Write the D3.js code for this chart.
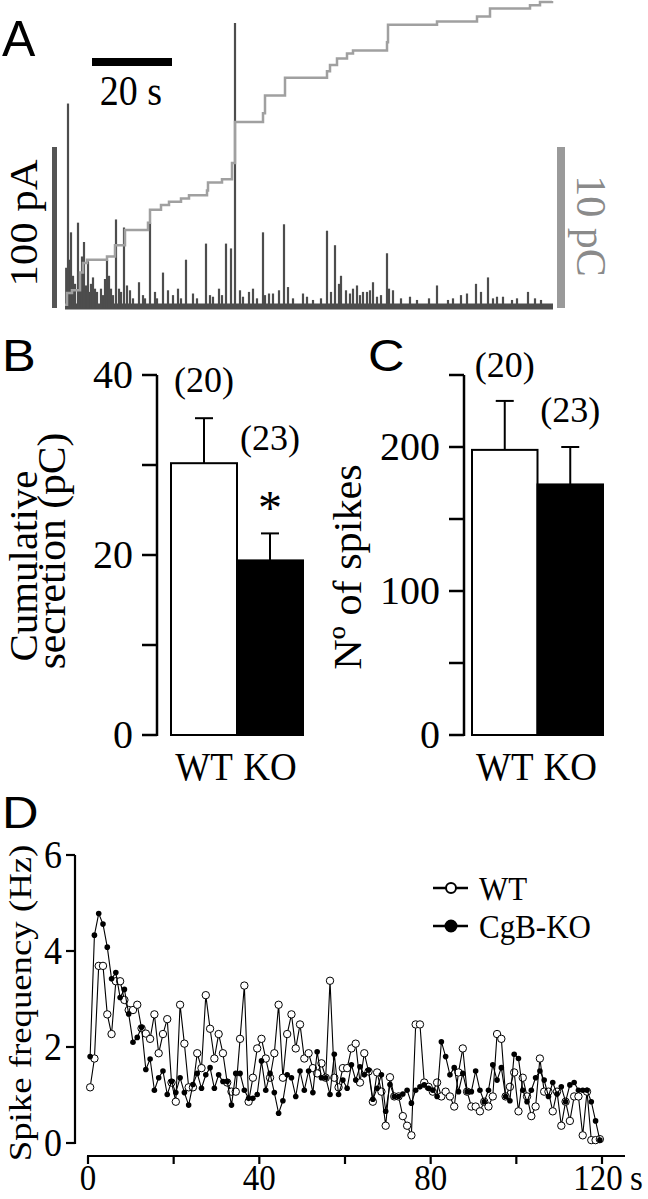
<!DOCTYPE html>
<html><head><meta charset="utf-8">
<script src="https://cdn.jsdelivr.net/npm/d3@7"></script>
<style>html,body{margin:0;padding:0;background:#fff;}svg{display:block;}</style>
</head><body>
<script>
// ---------- Panel A data ----------
const spikeTimes = [0.75,1.5,2,2.5,3.25,4.25,4.75,5.75,6.5,7,8,9,10.5,11,12.75,13.5,14.75,15.5,16.25,18.5,21.25,24.5,25.75,28.25,30.25,35.25,36.25,38.5,40.25,41.5,42.5,43.75,46,49.5,51,52,53.5,54.75,55.75,59.5,65.5,67.5,70.25,71.25,73.75,75.5,76.25,78,80.5,82,86.25,93,95.75,100.5,102.75,105.75,108,109.5,111.75,115.75,117.5];
const spikeAmps  = [127,47,20,15,53,32,41,29,15,19,10,12,30,20,55,12,50,14,11,16,53,22,11,12,30,40,8,12,40,37,177,11,10,47,9,9,11,52,13,9,48,39,11,9,8,10,11,7,34,11,7,14,5,9,15,19,7,7,5,10,6];
const smallSpikeTimes = [0.3,1.0,1.25,3.75,5.25,6,7.5,9.5,10,11.5,12,14,17,19.5,20,22.5,23,27,29,32,33,37,39.25,44.5,47,48,50,57,60.5,62,64,66.5,68.5,69,72,73,74.5,77,79,81,84,88,91,97,99,104,107,113,119];
const smallSpikeAmps  = [25,30,22,18,14,10,12,8,18,12,8,10,6,8,6,10,6,8,6,9,6,7,8,7,12,6,8,6,7,5,6,10,15,20,12,14,10,16,8,12,6,5,6,6,8,10,6,6,5];
const chargeTimes = [0,0.5,1.75,3.75,4.5,5.5,10.5,12.5,15,20.75,21.25,24,26,29,31,35.5,35.75,39.25,41.75,42.5,49.5,50,55,65.5,66.25,68,70.5,72,80.5,80.75,93,103,106.25,116.25,118.75,121.75];
const chargeVals  = [0.2,0.93,1.1,2.2,2.8,3.0,3.2,3.9,4.85,5.3,6.1,6.4,6.6,6.8,7.0,7.3,7.8,8.0,9.0,11.55,12.1,13.2,14.3,14.7,15.1,15.5,15.8,16.0,16.5,17.6,17.8,18.1,18.6,18.8,19.0,19.07];

// ---------- Panels B, C data ----------
const groups = ["WT","KO"];
const secretionMean = [30.2, 19.4];
const secretionErr  = [5.0, 3.0];
const secretionN    = ["(20)","(23)"];
const spikesMean = [198, 174];
const spikesErr  = [34, 26];
const spikesN    = ["(20)","(23)"];
const secretionTicks = [0,10,20,30,40];
const secretionLabels = [0,20,40];
const spikesTicks = [0,50,100,150,200,250];
const spikesLabels = [0,100,200];

// ---------- Panel D data ----------
const seconds = d3.range(0.5, 120.5, 1);
const freqWT = [1.16,1.76,3.69,3.69,2.68,2.27,3.37,3.37,2.98,2.77,
2.77,2.88,2.39,2.28,2.17,2.68,1.87,2.27,2.58,1.26,
0.86,2.88,2.07,1.16,1.16,1.87,1.56,3.08,2.38,1.76,
2.27,1.87,1.26,1.07,1.07,2.17,3.28,0.86,1.36,1.97,
2.17,1.76,1.36,1.87,2.88,1.36,2.27,2.68,1.97,2.47,
1.76,1.87,1.56,1.45,1.66,1.36,3.38,1.36,1.16,1.56,
1.56,1.97,2.07,
1.26,1.87,1.49,0.86,1.47,1.07,0.36,1.37,0.97,0.97,
0.56,0.36,0.16,2.47,2.47,1.26,1.17,1.07,1.26,0.97,
1.07,0.97,0.76,1.47,1.97,1.07,0.76,0.76,0.66,0.86,
0.76,0.97,2.27,2.17,0.97,1.17,1.47,0.66,1.36,0.97,
0.56,0.76,1.76,1.07,1.07,0.66,1.07,0.36,0.86,0.46,
0.97,0.97,0.16,1.07,0.06,0.06,0.08];
const freqKO = [1.80,4.33,4.78,4.56,4.08,3.42,3.55,3.03,3.20,2.69,
2.10,2.20,2.41,1.53,1.75,1.10,1.36,1.50,1.01,1.28,
1.05,1.36,1.05,0.79,1.22,1.45,1.14,1.42,1.57,1.14,
1.42,1.28,1.28,0.79,1.45,1.45,1.10,0.93,0.93,1.01,
1.71,1.10,1.45,1.05,0.62,0.88,1.42,1.36,0.97,1.50,
1.10,1.50,1.05,1.90,1.36,1.36,1.01,1.85,1.01,1.31,
1.14,1.63,1.31,
1.59,1.42,1.52,0.91,1.14,1.42,0.66,1.22,0.97,0.97,
1.02,1.10,0.83,1.10,1.17,1.21,1.14,1.10,0.97,2.11,
1.80,1.42,1.57,1.07,1.45,1.07,1.07,1.50,1.10,0.86,
1.10,1.63,1.31,1.57,0.97,0.88,1.85,1.76,1.10,0.86,
1.10,1.36,1.50,1.31,0.97,1.26,1.02,1.17,0.86,1.21,
1.26,1.10,1.10,1.10,0.86,0.46,0.06];
const freqTicks = [0,2,4,6];
const timeTicks = [0,20,40,60,80,100,120];
const timeLabels = [0,40,80,120];
const legendNames = ["WT","CgB-KO"];

// ---------- drawing ----------
const SERIF = "'Liberation Serif','Times New Roman',serif";
const SANS = "'Liberation Sans',Arial,sans-serif";
const svg = d3.select("body").append("svg").attr("width",648).attr("height",1199);
svg.append("rect").attr("width",648).attr("height",1199).attr("fill","#fff");

function txt(g, o){
  return g.append("text")
    .attr("transform",`translate(${o.x},${o.y}) rotate(${o.rot||0}) scale(${o.sx||1},${o.sy||1})`)
    .attr("text-anchor",o.anchor||"start")
    .style("font-family",o.family||SERIF)
    .style("font-size",o.size+"px")
    .attr("fill",o.fill||"#000")
    .text(o.text);
}

// ===== Panel A =====
const gA = svg.append("g");
const xA = d3.scaleLinear().domain([0,122]).range([65,553]);
const yAmp = d3.scaleLinear().domain([0,100]).range([308,147]);
const yQ = d3.scaleLinear().domain([0,10]).range([308,147]);
txt(gA,{x:2,y:56,text:"A",size:50,family:SANS});
gA.append("line").attr("x1",xA(6.75)).attr("x2",xA(26.75)).attr("y1",62).attr("y2",62).attr("stroke","#000").attr("stroke-width",8);
txt(gA,{x:131,y:105,text:"20 s",size:38,anchor:"middle",sy:1.12});
gA.append("line").attr("x1",54.5).attr("x2",54.5).attr("y1",yAmp(0)).attr("y2",yAmp(100)).attr("stroke","#555").attr("stroke-width",5);
txt(gA,{x:37,y:223,text:"100 pA",size:40,anchor:"middle",rot:-90,sx:1.07});
gA.append("line").attr("x1",561).attr("x2",561).attr("y1",yQ(0)).attr("y2",yQ(10)).attr("stroke","#9a9a9a").attr("stroke-width",8);
txt(gA,{x:577,y:226,text:"10 pC",size:42,anchor:"middle",rot:90,fill:"#8a8a8a"});
gA.append("line").attr("x1",xA(0)).attr("x2",xA(122)).attr("y1",yAmp(0)-1.5).attr("y2",yAmp(0)-1.5).attr("stroke","#4d4d4d").attr("stroke-width",6);
gA.selectAll("line.small").data(smallSpikeTimes).enter().append("line").attr("class","small")
  .attr("x1",d=>xA(d)).attr("x2",d=>xA(d)).attr("y1",yAmp(0)).attr("y2",(d,i)=>yAmp(smallSpikeAmps[i]))
  .attr("stroke","#4d4d4d").attr("stroke-width",2.2);
gA.selectAll("line.spike").data(spikeTimes).enter().append("line").attr("class","spike")
  .attr("x1",d=>xA(d)).attr("x2",d=>xA(d)).attr("y1",yAmp(0)).attr("y2",(d,i)=>yAmp(spikeAmps[i]))
  .attr("stroke","#4d4d4d").attr("stroke-width",2.2);
const qPts = chargeTimes.map((t,i)=>[t,chargeVals[i]]);
gA.append("path").attr("d",d3.line().x(d=>xA(d[0])).y(d=>yQ(d[1])).curve(d3.curveStepAfter)(qPts))
  .attr("fill","none").attr("stroke","#a0a0a0").attr("stroke-width",2.5);

// ===== Bar panels =====
function barPanel(o){
  const g = svg.append("g");
  const y = d3.scaleLinear().domain(o.domain).range([735,375]);
  const x = d3.scaleBand().domain(groups).range(o.xr).padding(0);
  txt(g,{x:o.lx,y:371,text:o.letter,size:44,family:SANS,sx:1.15});
  g.append("line").attr("x1",o.ax).attr("x2",o.ax).attr("y1",y(o.domain[0])+1).attr("y2",y(o.domain[1])).attr("stroke","#000").attr("stroke-width",2.5);
  o.ticks.forEach(v=>{
    g.append("line").attr("x1",o.ax-15).attr("x2",o.ax).attr("y1",y(v)).attr("y2",y(v)).attr("stroke","#000").attr("stroke-width",2.5);
  });
  o.labels.forEach(v=>{
    txt(g,{x:o.ax-24,y:y(v)+13,text:String(v),size:40,anchor:"end"});
  });
  groups.forEach((k,i)=>{
    g.append("rect").attr("x",x(k)).attr("y",y(o.mean[i])).attr("width",x.bandwidth()).attr("height",y(0)-y(o.mean[i]))
      .attr("fill",i===0?"#fff":"#000").attr("stroke","#000").attr("stroke-width",2);
    const cx = x(k)+x.bandwidth()/2;
    g.append("line").attr("x1",cx).attr("x2",cx).attr("y1",y(o.mean[i])).attr("y2",y(o.mean[i]+o.err[i])).attr("stroke","#000").attr("stroke-width",2);
    g.append("line").attr("x1",cx-9).attr("x2",cx+9).attr("y1",y(o.mean[i]+o.err[i])).attr("y2",y(o.mean[i]+o.err[i])).attr("stroke","#000").attr("stroke-width",2);
    txt(g,{x:cx,y:o.nY[i],text:o.n[i],size:36,anchor:"middle"});
    txt(g,{x:cx,y:780,text:k,size:37,anchor:"middle",sy:1.1});
  });
  return {g,x,y};
}
const B = barPanel({letter:"B",lx:2,domain:[0,40],xr:[171,303],ax:157,ticks:secretionTicks,labels:secretionLabels,
  mean:secretionMean,err:secretionErr,n:secretionN,nY:[392,450]});
txt(B.g,{x:B.x("KO")+B.x.bandwidth()/2,y:524,text:"*",size:48,anchor:"middle"});
txt(B.g,{x:37,y:566,text:"Cumulative",size:39,anchor:"middle",rot:-90,sx:1.05});
txt(B.g,{x:65,y:551,text:"secretion (pC)",size:40,anchor:"middle",rot:-90,sx:1.04});
const C = barPanel({letter:"C",lx:368,domain:[0,250],xr:[472,603],ax:464,ticks:spikesTicks,labels:spikesLabels,
  mean:spikesMean,err:spikesErr,n:spikesN,nY:[377,422]});
txt(C.g,{x:361,y:567,text:"Nº of spikes",size:41,anchor:"middle",rot:-90,sx:1.03});

// ===== Panel D =====
const gD = svg.append("g");
const xD = d3.scaleLinear().domain([0,120]).range([88,602]);
const yD = d3.scaleLinear().domain([0,6]).range([1143,855]);
txt(gD,{x:2,y:828,text:"D",size:44,family:SANS,sx:1.15});
gD.append("line").attr("x1",75).attr("x2",75).attr("y1",yD(0)+1).attr("y2",yD(6)).attr("stroke","#000").attr("stroke-width",2.2);
freqTicks.forEach(v=>{
  gD.append("line").attr("x1",66).attr("x2",75).attr("y1",yD(v)).attr("y2",yD(v)).attr("stroke","#000").attr("stroke-width",2.2);
  txt(gD,{x:62,y:yD(v)+13,text:String(v),size:36,anchor:"end",sy:1.1});
});
gD.append("line").attr("x1",xD(0)-1).attr("x2",625).attr("y1",1156).attr("y2",1156).attr("stroke","#000").attr("stroke-width",2.2);
timeTicks.forEach(v=>{
  gD.append("line").attr("x1",xD(v)).attr("x2",xD(v)).attr("y1",1156).attr("y2",1164).attr("stroke","#000").attr("stroke-width",2.2);
});
timeLabels.forEach(v=>{
  txt(gD,{x:xD(v)-(v===120?4:0),y:1190,text:String(v),size:33,anchor:"middle",sy:1.1});
});
txt(gD,{x:630,y:1190,text:"s",size:33,sy:1.1});
txt(gD,{x:31,y:1003,text:"Spike frequency (Hz)",size:32,anchor:"middle",rot:-90,sx:1.15});

const lineGen = d3.line().x((d,i)=>xD(seconds[i])).y(d=>yD(d));
gD.append("path").attr("d",lineGen(freqWT)).attr("fill","none").attr("stroke","#000").attr("stroke-width",1.1);
gD.selectAll("circle.wt").data(freqWT).enter().append("circle").attr("class","wt")
  .attr("cx",(d,i)=>xD(seconds[i])).attr("cy",d=>yD(d)).attr("r",3.7).attr("fill","#fff").attr("stroke","#000").attr("stroke-width",1);
gD.append("path").attr("d",lineGen(freqKO)).attr("fill","none").attr("stroke","#000").attr("stroke-width",1.1);
gD.selectAll("circle.ko").data(freqKO).enter().append("circle").attr("class","ko")
  .attr("cx",(d,i)=>xD(seconds[i])).attr("cy",d=>yD(d)).attr("r",2.8).attr("fill","#000");

legendNames.forEach((name,i)=>{
  const ly = 888 + i*38;
  gD.append("line").attr("x1",433).attr("x2",468).attr("y1",ly).attr("y2",ly).attr("stroke","#000").attr("stroke-width",2.5);
  gD.append("circle").attr("cx",451).attr("cy",ly).attr("r",i===0?5:5.5).attr("fill",i===0?"#fff":"#000").attr("stroke","#000").attr("stroke-width",2);
  txt(gD,{x:479,y:ly+12,text:name,size:31,sy:1.12});
});
</script>
</body></html>
